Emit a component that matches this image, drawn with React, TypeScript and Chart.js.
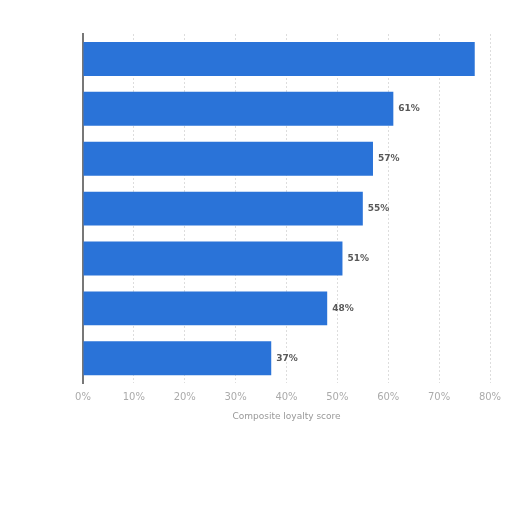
import React, { useEffect, useRef } from "react";
import { Chart, registerables } from "chart.js";

Chart.register(...registerables);

const categories = ["Brand A", "Brand B", "Brand C", "Brand D", "Brand E", "Brand F", "Brand G"];
const values = [77, 61, 57, 55, 51, 48, 37];
const showLabel = [false, true, true, true, true, true, true];
const xTicks = [0, 10, 20, 30, 40, 50, 60, 70, 80];
const axisTitle = "Composite loyalty score";

const labelPlugin = {
  id: "valueLabels",
  afterDatasetsDraw(chart: any) {
    const ctx = chart.ctx;
    const meta = chart.getDatasetMeta(0);
    ctx.save();
    ctx.font = "bold 9px 'DejaVu Sans', sans-serif";
    ctx.fillStyle = "#585858";
    ctx.textAlign = "left";
    ctx.textBaseline = "middle";
    meta.data.forEach((bar: any, i: number) => {
      if (!showLabel[i]) return;
      ctx.fillText(values[i] + "%", bar.x + 5, bar.y);
    });
    ctx.restore();
  },
};

export default function App() {
  const ref = useRef<HTMLCanvasElement | null>(null);
  useEffect(() => {
    if (!ref.current) return;
    const chart = new Chart(ref.current, {
      type: "bar",
      data: {
        labels: categories,
        datasets: [
          {
            data: values,
            backgroundColor: "#2a73d8",
            borderWidth: 0,
            barPercentage: 0.68,
            categoryPercentage: 1,
          },
        ],
      },
      options: {
        indexAxis: "y",
        animation: false,
        responsive: false,
        maintainAspectRatio: false,
        layout: { padding: { left: 83, right: 22, top: 34, bottom: 90 } },
        plugins: {
          legend: { display: false },
          tooltip: { enabled: false },
        },
        scales: {
          x: {
            min: 0,
            max: 80,
            afterBuildTicks: (axis: any) => {
              axis.ticks = xTicks.map((v) => ({ value: v }));
            },
            ticks: {
              callback: (v: any) => v + "%",
              color: "#ababab",
              font: { size: 10, family: "'DejaVu Sans', sans-serif" },
              padding: 8,
              maxRotation: 0,
            },
            grid: {
              color: "#dddddd",
              lineWidth: 1,
              drawTicks: false,
            },
            border: { display: false, dash: [2, 2] },
            title: {
              display: true,
              text: axisTitle,
              color: "#999999",
              font: { size: 9, family: "'DejaVu Sans', sans-serif" },
              padding: { top: 0, bottom: 0 },
            },
          },
          y: {
            ticks: { display: false },
            grid: { display: false, drawTicks: false },
            border: { display: true, color: "#777777", width: 2 },
          },
        },
      },
      plugins: [labelPlugin],
    });
    return () => chart.destroy();
  }, []);
  return (
    <div style={{ position: "fixed", left: 0, top: 0, width: 512, height: 512, background: "#ffffff" }}>
      <canvas ref={ref} width={512} height={512} style={{ width: 512, height: 512 }} />
    </div>
  );
}
